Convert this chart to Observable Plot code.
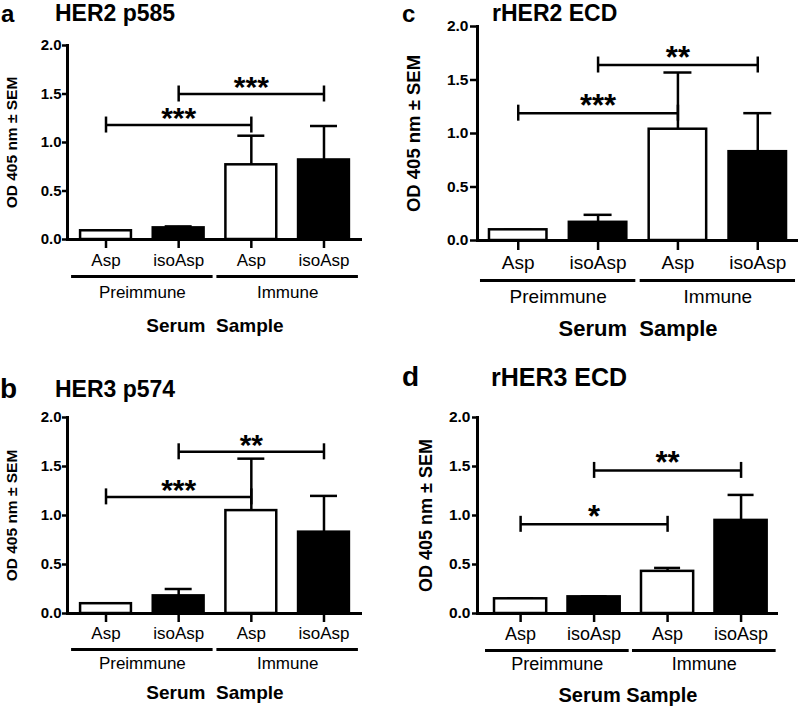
<!DOCTYPE html>
<html>
<head>
<meta charset="utf-8">
<script src="https://cdn.jsdelivr.net/npm/d3@7"></script>
<script src="https://cdn.jsdelivr.net/npm/@observablehq/plot@0.6"></script>
<style>
  html, body { margin: 0; padding: 0; background: white; }
  #root { position: relative; width: 800px; height: 709px; overflow: hidden; background: white;
          font-family: 'Liberation Sans', Arial, Helvetica, sans-serif; color: black; }
  .ttl { position: absolute; font-weight: bold; line-height: 0.75; white-space: pre; }
  g[aria-label="y-axis tick label"] { font-weight: bold; }
</style>
</head>
<body>
<div id="root"></div>
<script>
// ---------- data ----------
const categories = ["Preimmune Asp", "Preimmune isoAsp", "Immune Asp", "Immune isoAsp"];
const tickLabels = ["Asp", "isoAsp", "Asp", "isoAsp"];
const groups = ["Preimmune", "Immune"];
const groupStart = [0, 2];
const groupEnd = [1, 3];
const yTicks = [0, 0.5, 1.0, 1.5, 2.0];
const yLabel = "OD 405 nm \u00b1 SEM";
const xLabel = "Serum\u00a0 Sample";
const xLabelD = "Serum Sample";

const panelLetters = ["a", "b", "c", "d"];
const panelTitles = ["HER2 p585", "HER3 p574", "rHER2 ECD", "rHER3 ECD"];

const meanA = [0.09, 0.12, 0.77, 0.82];
const semA  = [0.00, 0.015, 0.30, 0.35];
const meanB = [0.10, 0.18, 1.05, 0.83];
const semB  = [0.00, 0.07, 0.53, 0.37];
const meanC = [0.10, 0.17, 1.04, 0.83];
const semC  = [0.00, 0.07, 0.53, 0.36];
const meanD = [0.15, 0.17, 0.43, 0.95];
const semD  = [0.005, 0.005, 0.035, 0.26];

const sigA = [{from: 0, to: 2, y: 1.18, label: "***"}, {from: 1, to: 3, y: 1.50, label: "***"}];
const sigB = [{from: 0, to: 2, y: 1.19, label: "***"}, {from: 1, to: 3, y: 1.65, label: "**"}];
const sigC = [{from: 0, to: 2, y: 1.19, label: "***"}, {from: 1, to: 3, y: 1.64, label: "**"}];
const sigD = [{from: 0, to: 2, y: 0.91, label: "*"},   {from: 1, to: 3, y: 1.46, label: "**"}];

// ---------- layout (positions / sizes / styles) ----------
const FONT = "'Liberation Sans', Arial, Helvetica, sans-serif";
const layouts = [
  {left: 0, top: 30, width: 372, height: 315, ml: 67, mr: 10, mt: 15, mb: 106, pi: 0.30, po: 0.18, align: 0.5,
   yt: 15, ypad: 1, ytick: 5, xt: 17, xtick: 9, xpad: 5, grp: 17, xl: 19, yl: 15.5, star: 30,
   grpDy: 53, ulDy: 37, xlDy: 86, ylDx: -55, cap: 13.5, xlab: xLabel},
  {left: 0, top: 400, width: 372, height: 309, ml: 67, mr: 10, mt: 17, mb: 96, pi: 0.30, po: 0.18, align: 0.5,
   yt: 15, ypad: 1, ytick: 5, xt: 17, xtick: 9, xpad: 4, grp: 17, xl: 19, yl: 15.5, star: 30,
   grpDy: 50, ulDy: 36, xlDy: 79, ylDx: -55, cap: 13.5, xlab: xLabel},
  {left: 400, top: 10, width: 400, height: 340, ml: 77, mr: 2, mt: 16, mb: 110, pi: 0.28, po: 0.15, align: 0.5,
   yt: 15.5, ypad: 2, ytick: 7, xt: 19, xtick: 10, xpad: 5, grp: 19, xl: 22, yl: 18.5, star: 31,
   grpDy: 56, ulDy: 40, xlDy: 88, ylDx: -63, cap: 14, xlab: xLabel},
  {left: 400, top: 400, width: 400, height: 309, ml: 77, mr: 22, mt: 17, mb: 96, pi: 0.29, po: 0.193, align: 0.6,
   yt: 15.5, ypad: 2, ytick: 5, xt: 18, xtick: 9, xpad: 5, grp: 18, xl: 20, yl: 18, star: 31,
   grpDy: 51, ulDy: 37, xlDy: 82, ylDx: -51, cap: 13, xlab: xLabelD}
];
const titleLayouts = [
  {lx: 1,   tx: 55,  base: 22,  lfs: 24, tfs: 23},
  {lx: 0,   tx: 55,  base: 398, lfs: 28, tfs: 23},
  {lx: 402, tx: 492, base: 22,  lfs: 24, tfs: 23},
  {lx: 402, tx: 491, base: 386, lfs: 28, tfs: 25}
];
const TITLE_BASE = 0.7215; // baseline offset (em) for line-height 0.75

const means = [meanA, meanB, meanC, meanD];
const sems = [semA, semB, semC, semD];
const sigs = [sigA, sigB, sigC, sigD];

const root = document.getElementById("root");

function makePanel(p) {
  const L = layouts[p];
  const mean = means[p], sem = sems[p], sig = sigs[p];
  const data = categories.map((c, i) => ({c, mean: mean[i], top: mean[i] + sem[i], label: tickLabels[i]}));
  const n = categories.length;
  const step = (L.width - L.ml - L.mr) / (n - L.pi + 2 * L.po);
  const bw = step * (1 - L.pi);
  const ends = sig.flatMap(d => [{x: categories[d.from], y: d.y}, {x: categories[d.to], y: d.y}]);
  const grp = groups.map((g, i) => ({g, x1: categories[groupStart[i]], x2: categories[groupEnd[i]]}));

  const marks = [
    Plot.axisY({ticks: yTicks, tickFormat: d => d.toFixed(1), tickSize: L.ytick, tickPadding: L.ypad,
                fontSize: L.yt, fontWeight: "bold", strokeWidth: 2.5, label: null}),
    Plot.axisX({tickSize: L.xtick, tickPadding: L.xpad, fontSize: L.xt, strokeWidth: 2.5, label: null,
                tickFormat: d => tickLabels[categories.indexOf(d)]}),
    // error bars (one-sided, SEM)
    Plot.ruleX(data, {x: "c", y1: "mean", y2: "top", strokeWidth: 2.5}),
    Plot.tickY(data, {x: "c", y: "top", strokeWidth: 2.5, insetLeft: (bw / 2) - L.cap, insetRight: (bw / 2) - L.cap}),
    // bars
    Plot.barY(data, {x: "c", y: "mean", fill: d => d.label === "isoAsp" ? "black" : "white",
                     stroke: "black", strokeWidth: 2.5}),
    // axis lines
    Plot.ruleY([0], {strokeWidth: 3}),
    Plot.frame({anchor: "left", strokeWidth: 3}),
    // significance brackets
    Plot.link(sig, {x1: d => categories[d.from], x2: d => categories[d.to], y1: "y", y2: "y", strokeWidth: 2.5}),
    Plot.ruleX(ends, {x: "x", y1: "y", y2: "y", insetTop: -8, insetBottom: -8, strokeWidth: 2.5}),
    ...sig.map(d => Plot.text([d], {x: () => categories[d.from], y: "y", text: "label",
        dx: (d.to - d.from) * step / 2, dy: 3, lineAnchor: "bottom", fontSize: L.star, fontWeight: "bold"})),
    // group underlines and labels
    Plot.ruleY(grp, {x1: "x1", x2: "x2", y: () => 0, dy: L.ulDy, insetLeft: -9, insetRight: -9, strokeWidth: 3}),
    ...grp.map(d => Plot.text([d], {x: "x1", y: () => 0, text: "g", dx: step / 2, dy: L.grpDy,
        lineAnchor: "middle", fontSize: L.grp})),
    // axis titles
    Plot.text([L.xlab], {frameAnchor: "bottom", dy: L.xlDy, lineAnchor: "middle", fontSize: L.xl, fontWeight: "bold"}),
    Plot.text([yLabel], {frameAnchor: "left", textAnchor: "middle", dx: L.ylDx, rotate: -90, lineAnchor: "middle",
        fontSize: L.yl, fontWeight: "bold"})
  ];

  const svg = Plot.plot({
    width: L.width, height: L.height,
    marginLeft: L.ml, marginRight: L.mr, marginTop: L.mt, marginBottom: L.mb,
    style: {fontFamily: FONT, color: "black", background: "transparent", overflow: "visible"},
    x: {type: "band", domain: categories, paddingInner: L.pi, paddingOuter: L.po, align: L.align, round: false, axis: null},
    y: {domain: [0, 2], axis: null},
    color: {type: "identity"},
    marks
  });
  svg.style.position = "absolute";
  svg.style.left = L.left + "px";
  svg.style.top = L.top + "px";
  svg.style.maxWidth = "none";
  root.appendChild(svg);

  const T = titleLayouts[p];
  const letter = document.createElement("div");
  letter.className = "ttl";
  letter.textContent = panelLetters[p];
  letter.style.fontSize = T.lfs + "px";
  letter.style.left = T.lx + "px";
  letter.style.top = (T.base - TITLE_BASE * T.lfs) + "px";
  root.appendChild(letter);
  const title = document.createElement("div");
  title.className = "ttl";
  title.textContent = panelTitles[p];
  title.style.fontSize = T.tfs + "px";
  title.style.left = T.tx + "px";
  title.style.top = (T.base - TITLE_BASE * T.tfs) + "px";
  root.appendChild(title);
}

for (let p = 0; p < 4; p++) makePanel(p);
</script>
</body>
</html>
